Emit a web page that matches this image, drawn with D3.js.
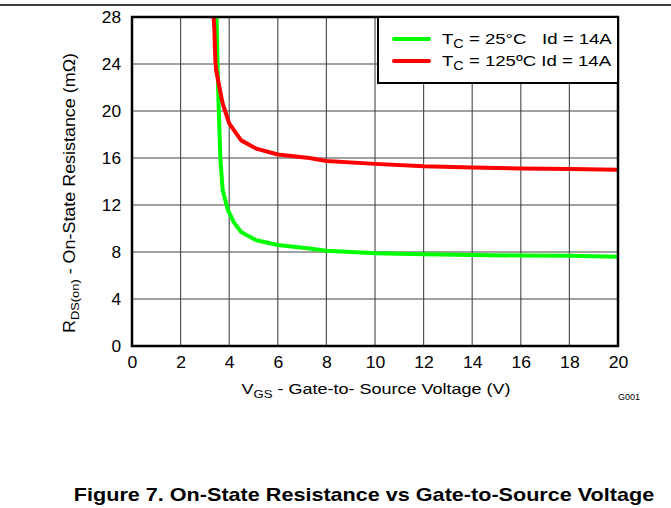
<!DOCTYPE html>
<html><head><meta charset="utf-8">
<script src="https://cdn.jsdelivr.net/npm/d3@7"></script>
<style>body{margin:0;background:#fff}svg{display:block;font-family:"Liberation Sans",Arial,sans-serif}</style>
</head><body><svg id="c" width="671" height="508"></svg>
<script>
const xTicks = [0,2,4,6,8,10,12,14,16,18,20];
const yTicks = [0,4,8,12,16,20,24,28];
const vgs25 = [3.48,3.52,3.57,3.64,3.73,3.94,4.2,4.49,5.11,6.0,7.3,8,10,12,14,16,18,20];
const r25   = [28,24,20.1,15.8,13.3,11.6,10.5,9.7,9.0,8.6,8.3,8.1,7.9,7.8,7.75,7.7,7.68,7.6];
const vgs125 = [3.36,3.39,3.43,3.46,3.6,3.73,4.0,4.49,5.11,6.0,7.3,8,10,12,14,16,18,20];
const r125   = [28,26.9,24.3,23.5,22,20.65,18.95,17.5,16.8,16.3,16.0,15.75,15.5,15.3,15.2,15.1,15.07,15.0];
const legendTemps = ["25°C   Id = 14A","125ºC Id = 14A"];

const svg = d3.select("#c");
const L=132,R=618,T=17,B=346;
const x = d3.scaleLinear().domain([0,20]).range([L,R]);
const y = d3.scaleLinear().domain([0,28]).range([B,T]);

svg.append("line").attr("x1",0).attr("x2",671).attr("y1",5).attr("y2",5).attr("stroke","#000").attr("stroke-width",1.5);

// grid
svg.append("g").selectAll("line").data(xTicks.slice(1,-1)).join("line")
  .attr("x1",d=>x(d)).attr("x2",d=>x(d)).attr("y1",T).attr("y2",B).attr("stroke","#555").attr("stroke-width",1.2);
svg.append("g").selectAll("line").data(yTicks.slice(1,-1)).join("line")
  .attr("y1",d=>y(d)).attr("y2",d=>y(d)).attr("x1",L).attr("x2",R).attr("stroke","#444").attr("stroke-width",1.2);

// curves
svg.append("clipPath").attr("id","pc").append("rect").attr("x",L).attr("y",T).attr("width",R-L).attr("height",B-T);
const line = d3.line().x(d=>x(d[0])).y(d=>y(d[1]));
const g = svg.append("g").attr("clip-path","url(#pc)");
g.append("path").datum(vgs25.map((v,i)=>[v,r25[i]])).attr("d",line).attr("fill","none").attr("stroke","#00ff00").attr("stroke-width",4).attr("stroke-linejoin","round");
g.append("path").datum(vgs125.map((v,i)=>[v,r125[i]])).attr("d",line).attr("fill","none").attr("stroke","#ff0000").attr("stroke-width",4).attr("stroke-linejoin","round");

// frame
svg.append("rect").attr("x",L).attr("y",T).attr("width",R-L).attr("height",B-T).attr("fill","none").attr("stroke","#000").attr("stroke-width",2.5);

// axes
const xa = svg.append("g").attr("transform",`translate(0,${B})`).call(d3.axisBottom(x).tickValues(xTicks).tickSize(0).tickPadding(11));
const ya = svg.append("g").attr("transform",`translate(${L},0)`).call(d3.axisLeft(y).tickValues(yTicks).tickSize(0).tickPadding(11));
[xa,ya].forEach(a=>{a.select(".domain").remove();});
xa.selectAll(".tick text").attr("font-size",16).attr("font-family","Liberation Sans, Arial, sans-serif").attr("fill","#000")
  .attr("transform","scale(1.1,1)");
ya.selectAll(".tick text").attr("font-size",16).attr("font-family","Liberation Sans, Arial, sans-serif").attr("fill","#000")
  .attr("transform","scale(1.08,1)").attr("x",-11/1.08);

// axis titles
const xt = svg.append("text").attr("transform","translate(376,394) scale(1.2,1)").attr("text-anchor","middle").attr("font-size",15).attr("fill","#000");
xt.append("tspan").text("V");
xt.append("tspan").attr("font-size",11).attr("dy",4).text("GS");
xt.append("tspan").attr("dy",-4).text(" - Gate-to- Source Voltage (V)");

const yt = svg.append("text").attr("transform","translate(75,193) rotate(-90) scale(1.12,1)").attr("text-anchor","middle").attr("font-size",16).attr("fill","#000");
yt.append("tspan").text("R");
yt.append("tspan").attr("font-size",11.5).attr("dy",4).text("DS(on)");
yt.append("tspan").attr("dy",-4).text(" - On-State Resistance (mΩ)");

svg.append("text").attr("x",640).attr("y",400).attr("text-anchor","end").attr("font-size",9).attr("fill","#000").text("G001");

// legend
svg.append("rect").attr("x",378).attr("y",17).attr("width",240).attr("height",66).attr("fill","#fff").attr("stroke","#000").attr("stroke-width",2);
const cols=["#00ff00","#ff0000"];
legendTemps.forEach((txt,i)=>{
  const yy = 39 + i*22;
  svg.append("line").attr("x1",394).attr("x2",429).attr("y1",yy).attr("y2",yy).attr("stroke",cols[i]).attr("stroke-width",4).attr("stroke-linecap","round");
  const t = svg.append("text").attr("transform",`translate(442,${yy+5}) scale(1.2,1)`).attr("font-size",15.5).attr("fill","#000").attr("xml:space","preserve");
  t.append("tspan").text("T");
  t.append("tspan").attr("font-size",12).attr("dy",4).text("C");
  t.append("tspan").attr("dy",-4).text(" = " + txt);
});

svg.append("text").attr("transform","translate(364,501) scale(1.2,1)").attr("text-anchor","middle").attr("font-size",18).attr("font-weight","bold").attr("fill","#000").text("Figure 7. On-State Resistance vs Gate-to-Source Voltage");
</script></body></html>
